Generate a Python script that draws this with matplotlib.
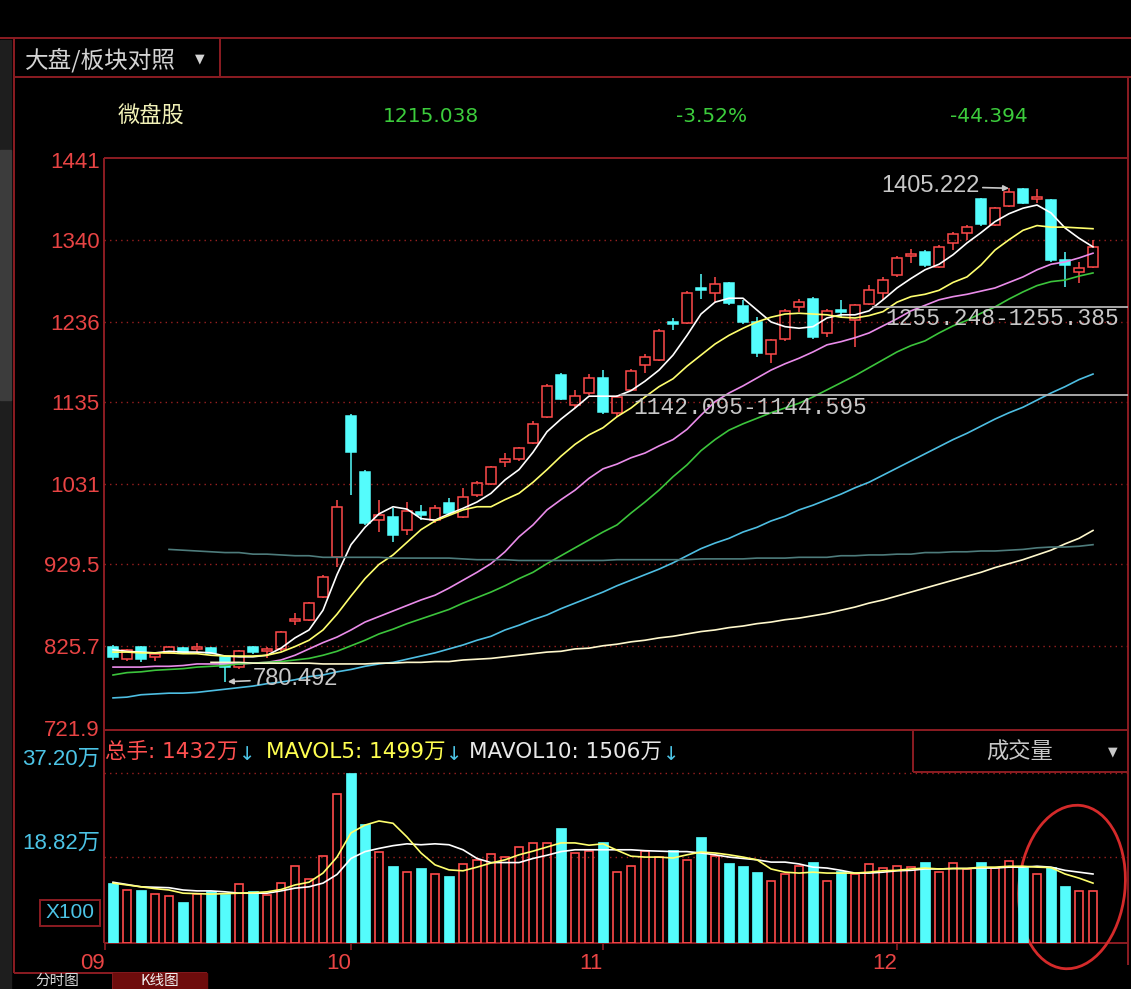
import matplotlib
matplotlib.use("Agg")
import matplotlib.pyplot as plt
from matplotlib.patches import Rectangle, Ellipse
import numpy as np

# ---------------- data ----------------
opens = [825, 809, 825, 812, 817, 823, 822, 823, 812, 799,
         824, 819, 822, 857, 859, 888, 938, 1117, 1046, 985,
         989, 972, 995, 985, 1007, 989, 1017, 1031, 1059, 1062,
         1083, 1116, 1169, 1131, 1146, 1165, 1121, 1150, 1182, 1188,
         1236, 1235, 1279, 1273, 1285, 1256, 1236, 1195, 1214, 1255,
         1265, 1222, 1251, 1238, 1259, 1273, 1295, 1320, 1325, 1306,
         1336, 1349, 1392, 1359, 1383, 1404, 1391, 1390, 1314, 1299, 1306]
highs = [827, 822, 826, 817, 826, 825, 829, 825, 814, 821,
         826, 825, 845, 868, 882, 916, 1011, 1119, 1048, 1011,
         1000, 1008, 1004, 1004, 1013, 1026, 1035, 1054, 1070, 1078,
         1110, 1157, 1171, 1150, 1170, 1175, 1143, 1176, 1195, 1227,
         1241, 1275, 1297, 1293, 1287, 1264, 1242, 1215, 1252, 1265,
         1268, 1252, 1264, 1259, 1283, 1293, 1319, 1328, 1327, 1333,
         1350, 1359, 1393, 1382, 1405.222, 1405, 1404, 1392, 1325, 1312, 1340]
lows = [808, 807, 806, 807, 815, 815, 817, 815, 780.492, 797,
        816, 811, 820, 852, 857, 886, 926, 1017, 979, 970,
        958, 966, 985, 981, 992, 988, 1014, 1029, 1052, 1060,
        1081, 1114, 1137, 1127, 1144, 1119, 1116, 1148, 1171, 1186,
        1226, 1233, 1265, 1260, 1258, 1234, 1192, 1184, 1212, 1249,
        1214, 1217, 1242, 1204, 1257, 1264, 1293, 1311, 1306, 1304,
        1327, 1340, 1358, 1357, 1381, 1385, 1386, 1312, 1280, 1285, 1304]
closes = [812, 821, 809, 815, 825, 817, 824, 817, 799, 819,
          818, 822, 844, 860, 880, 913, 1002, 1071, 981, 992,
          966, 997, 992, 1001, 994, 1014, 1032, 1052, 1062, 1076,
          1107, 1155, 1139, 1142, 1165, 1122, 1141, 1174, 1192, 1225,
          1234, 1273, 1277, 1284, 1260, 1236, 1197, 1213, 1250, 1261,
          1217, 1250, 1249, 1257, 1276, 1289, 1317, 1322, 1308, 1331,
          1347, 1356, 1360, 1380, 1401, 1387, 1394, 1314, 1308, 1304, 1331]

ma5 = [821, 819, 818, 817, 819, 818, 818, 817, 813, 812,
       812, 814, 823, 836, 846, 871, 916, 954, 976, 993,
       1002, 999, 987, 985, 993, 1000, 1008, 1019, 1036, 1049,
       1071, 1097, 1113, 1127, 1142, 1142, 1142, 1149, 1161, 1175,
       1194, 1219, 1246, 1261, 1266, 1266, 1251, 1236, 1230, 1228,
       1230, 1241, 1245, 1245, 1250, 1264, 1279, 1291, 1302, 1309,
       1321, 1336, 1349, 1363, 1373, 1380, 1384, 1374, 1355, 1342, 1331]
ma10 = [818, 818, 817, 817, 817, 816, 816, 814, 813, 813,
        813, 814, 818, 825, 833, 846, 866, 889, 911, 929,
        941, 957, 973, 984, 991, 998, 1002, 1002, 1011, 1019,
        1033, 1049, 1066, 1081, 1093, 1102, 1116, 1127, 1141, 1154,
        1164, 1180, 1194, 1208, 1219, 1228, 1236, 1242, 1246, 1247,
        1246, 1245, 1242, 1241, 1244, 1249, 1261, 1268, 1271, 1276,
        1286, 1293, 1308, 1327, 1340, 1352, 1358, 1356, 1356, 1355, 1354]
ma20 = [799, 799, 799, 800, 800, 801, 803, 803, 803, 803,
        804, 805, 808, 814, 822, 830, 837, 846, 856, 863,
        870, 877, 884, 890, 899, 909, 919, 930, 945, 964,
        979, 998, 1011, 1023, 1038, 1050, 1056, 1064, 1070, 1079,
        1087, 1100, 1118, 1135, 1146, 1155, 1165, 1175, 1183, 1190,
        1198, 1207, 1211, 1216, 1222, 1231, 1240, 1250, 1257, 1264,
        1268, 1271, 1275, 1279, 1286, 1293, 1302, 1309, 1312, 1317, 1323]
ma30 = [789, 792, 793, 795, 796, 797, 799, 800, 801, 803,
        804, 805, 806, 808, 810, 814, 819, 826, 833, 841,
        847, 854, 860, 866, 872, 880, 887, 894, 902, 911,
        919, 930, 940, 950, 960, 970, 979, 994, 1008, 1023,
        1040, 1055, 1073, 1087, 1099, 1107, 1114, 1121, 1127, 1133,
        1141, 1150, 1159, 1168, 1178, 1188, 1198, 1206, 1212, 1222,
        1231, 1238, 1247, 1255, 1265, 1274, 1282, 1287, 1289, 1294, 1298]
ma60 = [760, 761, 764, 765, 766, 766, 767, 769, 771, 773,
        775, 778, 780, 783, 787, 789, 793, 796, 800, 803,
        805, 809, 813, 817, 822, 827, 833, 838, 846, 852,
        859, 865, 873, 880, 887, 894, 902, 909, 916, 923,
        931, 940, 949, 956, 962, 970, 976, 984, 990, 998,
        1004, 1011, 1018, 1026, 1033, 1042, 1051, 1060, 1069, 1078,
        1087, 1095, 1104, 1113, 1121, 1128, 1137, 1146, 1154, 1163, 1170]
ma120_first = 8
ma120 = [805, 805, 805, 804, 804, 804, 804, 804, 803, 803,
         803, 803, 804, 804, 805, 805, 806, 806, 808, 809,
         810, 812, 814, 816, 818, 819, 822, 823, 826, 828,
         831, 833, 836, 838, 841, 844, 846, 849, 851, 854,
         856, 859, 861, 864, 867, 871, 875, 880, 884, 889,
         894, 899, 904, 909, 914, 919, 925, 930, 935, 941,
         947, 955, 962, 972]
ma250_first = 5
ma250 = [948, 947, 946, 945, 944, 944, 942, 942, 941, 940,
         940, 938, 938, 938, 938, 938, 937, 937, 937, 937,
         937, 936, 935, 935, 935, 934, 934, 934, 934, 934,
         934, 934, 935, 935, 935, 935, 935, 935, 936, 936,
         936, 936, 937, 937, 937, 938, 938, 938, 940, 940,
         941, 941, 942, 942, 944, 944, 945, 945, 946, 946,
         947, 948, 950, 951, 951, 952, 954]

volumes = [13.1, 11.6, 11.6, 10.7, 10.3, 9.0, 10.8, 11.4, 10.7, 12.9,
           11.3, 10.6, 13.2, 16.8, 13.9, 19.0, 32.6, 37.2, 26.0, 19.9,
           16.8, 15.5, 16.4, 15.1, 14.7, 17.3, 18.2, 19.5, 18.8, 21.0,
           21.9, 21.9, 25.2, 19.7, 20.1, 22.1, 15.5, 16.9, 20.1, 18.9,
           20.3, 18.2, 23.2, 19.0, 17.5, 16.9, 15.6, 13.6, 15.0, 16.8,
           17.7, 13.6, 15.8, 15.0, 17.3, 16.4, 16.8, 16.7, 17.7, 15.6,
           17.6, 16.1, 17.7, 16.4, 17.9, 16.7, 15.0, 16.7, 12.5, 11.4, 11.4]
mavol5 = [13.1, 12.7, 12.3, 11.9, 11.6, 10.9, 10.8, 10.7, 10.8, 10.9,
          11.0, 11.2, 11.7, 12.7, 13.3, 15.3, 18.8, 24.1, 25.8, 26.7,
          26.2, 23.2, 19.7, 17.1, 16.0, 15.8, 16.6, 17.5, 18.2, 19.3,
          20.1, 21.0, 21.9, 21.9, 21.4, 21.7, 20.3, 19.0, 18.8, 18.8,
          18.6, 19.3, 19.9, 19.7, 19.3, 18.8, 18.2, 16.2, 15.5, 15.3,
          15.5, 15.3, 15.3, 15.3, 15.5, 15.8, 15.9, 16.2, 16.4, 16.2,
          16.3, 16.3, 16.6, 16.6, 16.8, 16.8, 16.6, 16.5, 15.1, 14.2, 13.1]
mavol10 = [13.3, 12.8, 12.3, 12.2, 12.1, 11.6, 11.4, 11.4, 11.2, 10.9,
           10.9, 10.9, 11.4, 12.0, 12.3, 13.1, 15.0, 18.5, 20.0, 20.7,
           21.3, 21.7, 21.5, 21.7, 21.5, 20.4, 18.5, 17.6, 17.6, 17.6,
           18.5, 19.2, 20.0, 20.4, 20.4, 20.4, 20.4, 20.4, 20.2, 20.1,
           20.0, 20.0, 19.7, 19.3, 18.8, 18.5, 18.2, 17.7, 17.7, 17.3,
           16.6, 16.4, 15.9, 15.3, 15.3, 15.5, 15.8, 15.9, 16.2, 16.2,
           16.3, 16.3, 16.4, 16.4, 16.6, 16.6, 16.8, 16.6, 15.9, 15.5, 15.1]

price_ticks = [721.9, 825.7, 929.5, 1031, 1135, 1236, 1340, 1441]
price_tick_labels = ["721.9", "825.7", "929.5", "1031", "1135", "1236", "1340", "1441"]
vol_ticks = [18.82, 37.20]
vol_tick_labels = ["18.82万", "37.20万"]
month_labels = ["09", "10", "11", "12"]
month_first_candle = [1, 18, 36, 57]

gap_ranges = [(1142.095, 1144.595), (1255.248, 1255.385)]
gap_first_candle = [37, 55]
max_label = "1405.222"
min_label = "780.492"

header_title = "大盘/板块对照"
header_name = "微盘股"
header_values = ["1215.038", "-3.52%", "-44.394"]
vol_header = [("总手: 1432万", "#ff5050"), ("MAVOL5: 1499万", "#ffff50"), ("MAVOL10: 1506万", "#e8e8e8")]
indicator_name = "成交量"
tab_labels = ["分时图", "K线图"]

# ---------------- styling ----------------
W, H = 1131, 989
BG = "black"
FRAME = "#8c1c22"
GRID = "#9a2020"
UP = "#ff4a4a"
DN = "#54fcfc"
LBL_RED = "#e84444"
CYAN_TXT = "#4cc4e6"
ANN = "#c8c8c8"
CJK = ["Noto Sans CJK SC", "DejaVu Sans"]
SANS = ["Liberation Sans", "Noto Sans CJK SC", "DejaVu Sans"]
DJV = ["DejaVu Sans", "Noto Sans CJK SC"]
MONO = ["Liberation Mono", "DejaVu Sans Mono"]

fig = plt.figure(figsize=(W / 100, H / 100), dpi=100, facecolor=BG)
renderer = fig.canvas.get_renderer()

ov = fig.add_axes([0, 0, 1, 1])
ov.set_xlim(0, W)
ov.set_ylim(H, 0)
ov.axis("off")


def px_axes(l, t, r, b):
    a = fig.add_axes([l / W, 1 - b / H, (r - l) / W, (b - t) / H])
    a.set_facecolor("none")
    for s in a.spines.values():
        s.set_visible(False)
    return a


axp = px_axes(104, 160, 1128, 728)
axv = px_axes(104, 730, 1128, 943)
for a in (axp, axv):
    a.set_zorder(2)

n = len(closes)
xs = np.arange(1, n + 1)
slot = 14.0  # pixels per candle
x_left = 1 - 9 / slot
x_right = x_left + 1024 / slot
axp.set_xlim(x_left, x_right)
axv.set_xlim(x_left, x_right)
axp.set_ylim(721.9, 1441)
axv.set_ylim(0, 37.2 * 213 / 170)

# ---------------- overlay frame ----------------
ov.add_patch(Rectangle((0, 40), 11, H - 40, color="#1e1e1e", zorder=0))
ov.add_patch(Rectangle((0, 150), 11, 250, color="#3c3c3c", zorder=0))
seg = [((0, 38), (W, 38)), ((14, 38), (14, 973)), ((220, 38), (220, 76)),
       ((14, 77), (W, 77)), ((1128, 77), (1128, 965)), ((104, 158), (1128, 158)),
       ((104, 158), (104, 943)), ((104, 730), (1128, 730)), ((913, 730), (913, 772)),
       ((913, 772), (1128, 772)), ((104, 943), (1128, 943)), ((14, 973), (207, 973)),
       ((113, 973), (113, H))]
for (x0, y0), (x1, y1) in seg:
    ov.plot([x0, x1], [y0, y1], color=FRAME, lw=1.4, zorder=1, solid_capstyle="butt")
ov.add_patch(Rectangle((113, 973), 94, 20, color="#6e0c0c", zorder=1))
ov.add_patch(Rectangle((40, 900), 60, 26, fill=False, edgecolor=FRAME, lw=1.4, zorder=1))

ov.text(25, 60, header_title, color="#d4d4d4", fontsize=17, family=CJK, va="center", ha="left")
ov.text(200, 59, "▼", color="#d4d4d4", fontsize=9, family=["DejaVu Sans"], va="center", ha="center")
ov.text(118, 116, header_name, color="#f2f2b8", fontsize=16, family=CJK, va="center", ha="left")
for txt, x0 in zip(header_values, [383, 676, 950]):
    ov.text(x0, 116, txt, color="#3ccc3c", fontsize=14.5, family=DJV, va="center", ha="left")

# volume header: each value followed directly by a cyan down arrow
vx = [105, 266, 469]
for (txt, col), x0 in zip(vol_header, vx):
    t = ov.text(x0, 752, txt, color=col, fontsize=15.5, family=DJV, va="center", ha="left")
    bb = t.get_window_extent(renderer)
    ov.text(bb.x1 + 1, 754, "↓", color=CYAN_TXT, fontsize=14, family=["DejaVu Sans"],
            va="center", ha="left")
ov.text(1020, 752, indicator_name, color="#c8c8c8", fontsize=16, family=CJK, va="center", ha="center")
ov.text(1113, 752, "▼", color="#c8c8c8", fontsize=9, family=["DejaVu Sans"], va="center", ha="center")
ov.text(70, 913, "X100", color=CYAN_TXT, fontsize=15, family=SANS, va="center", ha="center")
ov.text(57, 981, tab_labels[0], color="#d8d8d8", fontsize=10.5, family=CJK, va="center", ha="center")
ov.text(160, 981, tab_labels[1], color="#f0f0f0", fontsize=10.5, family=CJK, va="center", ha="center")

ov.add_patch(Ellipse((1072, 887), 106, 164, angle=6, fill=False, edgecolor="#d42a2a", lw=2.0, zorder=5))

# ---------------- price panel ----------------
for t in price_ticks[1:-1]:
    axp.axhline(t, color=GRID, lw=1.0, ls=(0, (1, 3)), zorder=0)
axp.set_xticks([])
axp.set_yticks(price_ticks)
axp.set_yticklabels(price_tick_labels)
axp.tick_params(axis="y", length=0, pad=3, labelsize=16, labelcolor=LBL_RED)
for lb in axp.get_yticklabels():
    lb.set_family(SANS)

bw = 0.68
for i in range(n):
    xi, o, h, l, c = xs[i], opens[i], highs[i], lows[i], closes[i]
    col = UP if c >= o else DN
    top, bot = max(o, c), min(o, c)
    axp.plot([xi, xi], [top, h], color=col, lw=1.1, zorder=3, solid_capstyle="butt")
    axp.plot([xi, xi], [l, bot], color=col, lw=1.1, zorder=3, solid_capstyle="butt")
    if top - bot < 1.0:
        axp.plot([xi - bw / 2, xi + bw / 2], [top, top], color=col, lw=1.4, zorder=3)
    else:
        axp.add_patch(Rectangle((xi - bw / 2, bot), bw, top - bot,
                                facecolor=("none" if c >= o else col), edgecolor=col,
                                lw=1.1, zorder=3))

ma_style = [(ma5, 1, "#ffffff"), (ma10, 1, "#ffff6e"), (ma20, 1, "#ea8cea"),
            (ma30, 1, "#3cc43c"), (ma60, 1, "#4ebee2"),
            (ma120, ma120_first, "#fff8cc"), (ma250, ma250_first, "#4e7c7c")]
for vals, first, col in ma_style:
    xx = np.arange(first, first + len(vals))
    axp.plot(xx, vals, color=col, lw=1.2, zorder=4)

for (lo, hi), first in zip(gap_ranges, gap_first_candle):
    mid = (lo + hi) / 2
    x0 = first + 0.3
    axp.plot([x0, x_right], [mid, mid], color="#b4b4b4", lw=1.3, zorder=4)
    axp.annotate(f"{lo:.3f}-{hi:.3f}", xy=(x0, mid), xytext=(12, -12),
                 textcoords="offset pixels", color=ANN, fontsize=16.5, family=MONO,
                 va="center", ha="left", zorder=6)

imax = int(np.argmax(highs))
axp.annotate(max_label, xy=(xs[imax], highs[imax]), xytext=(-29, 2), textcoords="offset pixels",
             color=ANN, fontsize=17, family=SANS, va="center", ha="right", zorder=6,
             arrowprops=dict(arrowstyle="-|>", color=ANN, lw=1.2, mutation_scale=8,
                             shrinkA=0, shrinkB=0))
imin = int(np.argmin(lows))
axp.annotate(min_label, xy=(xs[imin] + 0.2, lows[imin]), xytext=(25, 3), textcoords="offset pixels",
             color=ANN, fontsize=17, family=SANS, va="center", ha="left", zorder=6,
             arrowprops=dict(arrowstyle="-|>", color=ANN, lw=1.2, mutation_scale=8,
                             shrinkA=0, shrinkB=0))

# ---------------- volume panel ----------------
for t in vol_ticks:
    axv.axhline(t, color=GRID, lw=1.0, ls=(0, (1, 3)), zorder=0)
vw = 0.7
for i in range(n):
    up = closes[i] >= opens[i]
    if up:
        axv.bar(xs[i], volumes[i], width=vw - 0.06, facecolor="none", edgecolor=UP, lw=1.2, zorder=3)
    else:
        axv.bar(xs[i], volumes[i], width=vw, facecolor=DN, edgecolor=DN, lw=0.5, zorder=3)
axv.plot(xs, mavol10, color="#ffffff", lw=1.2, zorder=4)
axv.plot(xs, mavol5, color="#ffff6e", lw=1.2, zorder=4)

axv.set_yticks([])
for t, lab in zip(vol_ticks, vol_tick_labels):
    axv.annotate(lab, xy=(0, t), xycoords=axv.get_yaxis_transform(), xytext=(-4, 14),
                 textcoords="offset pixels", color=CYAN_TXT, fontsize=16, family=SANS,
                 va="center", ha="right", annotation_clip=False)

mpos = [x_left + 0.07 if k == 1 else k for k in month_first_candle]
axv.set_xticks(mpos)
axv.set_xticklabels(month_labels)
axv.tick_params(axis="x", length=5, width=1.2, color=FRAME, pad=2, labelsize=16, labelcolor=LBL_RED)
for lb in axv.get_xticklabels():
    lb.set_family(SANS)
    lb.set_ha("right")

fig.savefig("out.png", dpi=100, facecolor=BG)
